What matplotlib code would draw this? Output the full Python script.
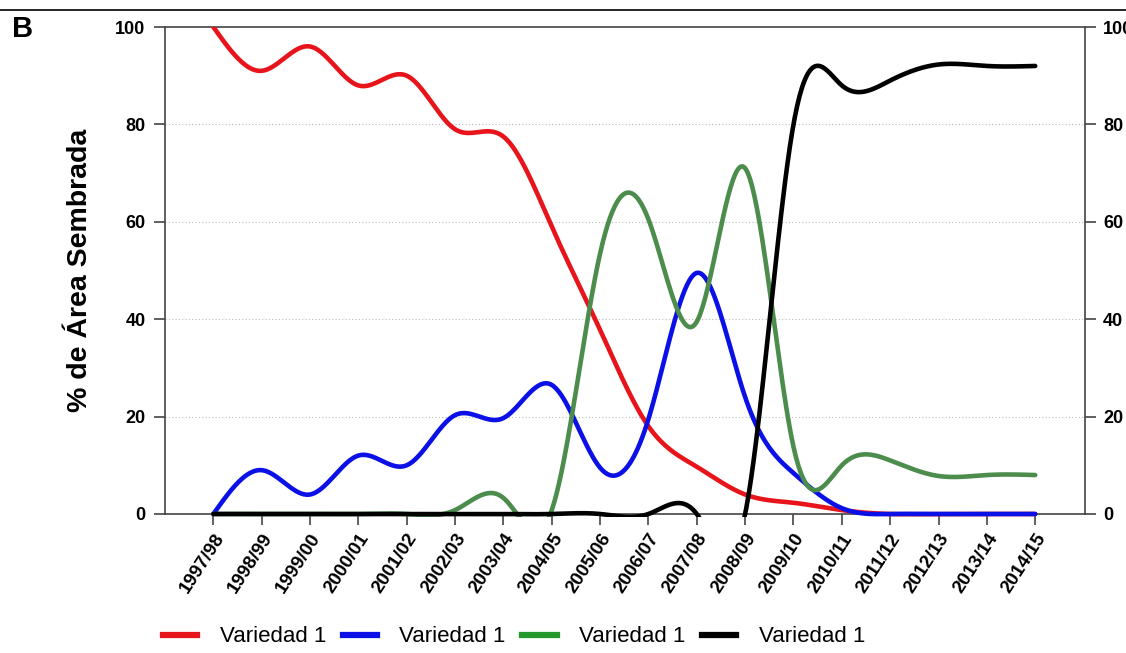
import numpy as np
import matplotlib.pyplot as plt
from matplotlib.lines import Line2D

plt.rcParams['font.family'] = ['Liberation Sans', 'DejaVu Sans']

# Campaigns and share of sown area (%) per variety
campaigns = ['1997/98', '1998/99', '1999/00', '2000/01', '2001/02', '2002/03',
             '2003/04', '2004/05', '2005/06', '2006/07', '2007/08', '2008/09',
             '2009/10', '2010/11', '2011/12', '2012/13', '2013/14', '2014/15']
red_vals = [100, 91, 96, 88, 90, 79, 77.5, 59, 37.8, 18, 9.7, 4, 2.3, 0.8, 0, 0, 0, 0]
blue_vals = [0, 9, 4, 12, 10, 20.3, 19.7, 26.5, 9.5, 19.5, 49.5, 24, 8.4, 1.2, 0, 0, 0, 0]
green_vals = [0, 0, 0, 0, 0, 0.8, 3.3, 0.8, 53.5, 60.5, 39.5, 71, 13.8, 10, 11, 7.8, 8, 8]
black_vals = [0, 0, 0, 0, 0, 0, 0, 0, 0, 0, 0, 0, 80, 88, 89, 92.3, 92, 92]
labels = ['Variedad 1', 'Variedad 1', 'Variedad 1', 'Variedad 1']


def natural_spline(y, n_per=40):
    # natural cubic spline through equally spaced points
    y = np.asarray(y, dtype=float)
    n = len(y)
    A = np.zeros((n, n))
    b = np.zeros(n)
    A[0, 0] = A[-1, -1] = 1
    for i in range(1, n - 1):
        A[i, i - 1], A[i, i], A[i, i + 1] = 1, 4, 1
        b[i] = 6 * (y[i + 1] - 2 * y[i] + y[i - 1])
    M = np.linalg.solve(A, b)
    xs, ys = [], []
    t = np.linspace(0, 1, n_per, endpoint=False)
    for i in range(n - 1):
        s = (1 - t) * y[i] + t * y[i + 1] \
            + ((1 - t) ** 3 - (1 - t)) * M[i] / 6 + (t ** 3 - t) * M[i + 1] / 6
        xs.append(i + t)
        ys.append(s)
    xs.append([n - 1])
    ys.append([y[-1]])
    return np.concatenate(xs), np.concatenate(ys)


fig = plt.figure(figsize=(11.26, 6.53), dpi=100)
ax = fig.add_axes([165 / 1126, 1 - 517.4 / 653, 920 / 1126, (517.4 - 27) / 653])

x = np.arange(len(campaigns))
colors = ['#e8141b', '#0a10e6', '#4c8c4c', '#000000']
for vals, c in zip([red_vals, blue_vals, green_vals, black_vals], colors):
    xs, ys = natural_spline(vals)
    ax.plot(xs, ys, color=c, lw=3.3, solid_capstyle='round', zorder=3)

ax.set_xlim(-1, 18.03)
ax.set_ylim(-0.7, 100)
ax.spines['bottom'].set_position(('data', 0))
ax.spines['left'].set_bounds(0, 100)
ax.spines['right'].set_bounds(0, 100)
for s in ax.spines.values():
    s.set_color('#444444')
    s.set_linewidth(1.2)

ax.set_yticks([0, 20, 40, 60, 80, 100])
ax.set_yticklabels(['0', '20', '40', '60', '80', '100'], fontsize=13, fontweight='bold')
ax.tick_params(axis='y', length=8, width=1.2, color='#444444', pad=6)
ax.set_xticks(x)
ax.set_xticklabels(campaigns, rotation=57, ha='right', rotation_mode='anchor',
                   fontsize=13.5, fontweight='bold')
ax.tick_params(axis='x', length=8, width=1.2, color='#444444', pad=4)

for yv in [20, 40, 60, 80]:
    ax.axhline(yv, color='#bbbbbb', lw=0.8, ls=(0, (1, 2)), zorder=1)

ax2 = ax.twinx()
ax2.set_ylim(ax.get_ylim())
ax2.set_yticks([0, 20, 40, 60, 80, 100])
ax2.set_yticklabels(['0', '20', '40', '60', '80', '100'], fontsize=13, fontweight='bold')
ax2.tick_params(axis='y', length=8, width=1.2, color='#444444', pad=5)
for s in ax2.spines.values():
    s.set_visible(False)

fig.text(80 / 1126, 1 - 270 / 653, '% de Área Sembrada', rotation=90,
         ha='center', va='center', fontsize=20.5, fontweight='bold')
fig.text(12 / 1126, 1 - 29 / 653, 'B', ha='left', va='center', fontsize=21, fontweight='bold')
fig.add_artist(Line2D([0, 1], [1 - 9.5 / 653, 1 - 9.5 / 653], color='black', lw=1.2))

handles = [Line2D([], [], color=c, lw=4.5) for c in ['#e8141b', '#0a10e6', '#22992a', '#000000']]
fig.legend(handles, labels, loc='center', bbox_to_anchor=(514 / 1126, 1 - 637 / 653),
           ncol=4, frameon=False, fontsize=16, handlelength=1.55, handletextpad=1.0,
           columnspacing=0.75)

fig.savefig('out.png', dpi=100)
